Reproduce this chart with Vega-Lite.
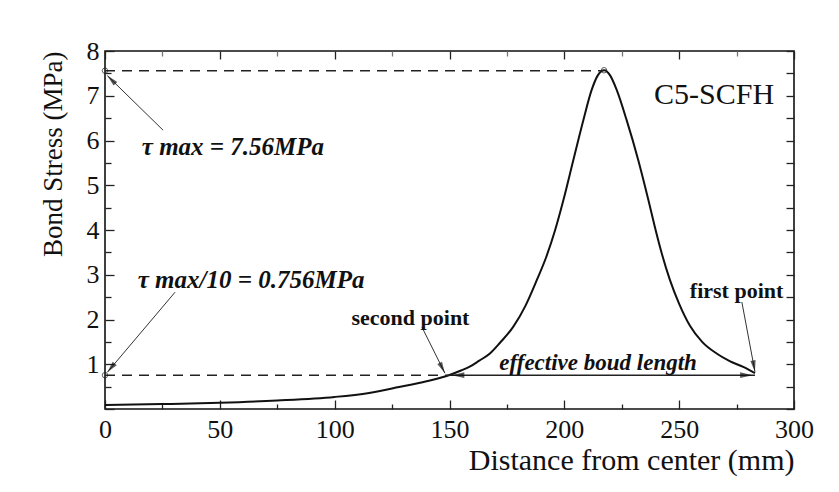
{
  "$schema": "https://vega.github.io/schema/vega-lite/v6.json",
  "width": 689,
  "height": 358,
  "autosize": {"type": "none"},
  "padding": {"left": 105, "top": 51, "right": 45, "bottom": 83},
  "config": {
    "view": {"stroke": "#111", "strokeWidth": 1.6},
    "font": "Liberation Serif",
    "axis": {
      "grid": false,
      "domain": false,
      "labelFont": "Liberation Serif",
      "titleFont": "Liberation Serif",
      "labelColor": "#111",
      "titleColor": "#111",
      "tickColor": "#222",
      "tickWidth": 1.3,
      "titleFontWeight": "normal",
      "labelFontSize": 26,
      "labelFlush": false,
      "labelOverlap": false
    }
  },
  "datasets": {
    "curve": [
      {"d": 0, "s": 0.09}, {"d": 25, "s": 0.11}, {"d": 50, "s": 0.14}, {"d": 75, "s": 0.19},
      {"d": 100, "s": 0.27}, {"d": 115, "s": 0.36}, {"d": 128, "s": 0.49}, {"d": 140, "s": 0.62},
      {"d": 150, "s": 0.76}, {"d": 155, "s": 0.86}, {"d": 159, "s": 0.95}, {"d": 163, "s": 1.08},
      {"d": 167.6, "s": 1.24}, {"d": 172, "s": 1.48}, {"d": 177.8, "s": 1.84}, {"d": 183, "s": 2.3},
      {"d": 188, "s": 2.88}, {"d": 192, "s": 3.38}, {"d": 196, "s": 4.0}, {"d": 199.6, "s": 4.67},
      {"d": 203.9, "s": 5.56}, {"d": 208.3, "s": 6.46}, {"d": 211.9, "s": 7.13}, {"d": 214.5, "s": 7.45},
      {"d": 217.3, "s": 7.57}, {"d": 220, "s": 7.45}, {"d": 222.8, "s": 7.13}, {"d": 227.1, "s": 6.46},
      {"d": 232.2, "s": 5.56}, {"d": 236.6, "s": 4.67}, {"d": 239.5, "s": 4.05}, {"d": 242.4, "s": 3.48},
      {"d": 246, "s": 2.88}, {"d": 250, "s": 2.35}, {"d": 254.7, "s": 1.86}, {"d": 260, "s": 1.5},
      {"d": 266.3, "s": 1.24}, {"d": 272, "s": 1.07}, {"d": 277.9, "s": 0.94}, {"d": 283, "s": 0.8}
    ],
    "refs": [
      {"x1": 0, "x2": 217, "y": 7.56},
      {"x1": 0, "x2": 150, "y": 0.756}
    ],
    "span": [
      {"x1": 150, "x2": 283, "y": 0.756}
    ],
    "leaders": [
      {"id": "a", "x1": 25.3, "y1": 6.23, "x2": 1, "y2": 7.45},
      {"id": "b", "x1": 30.5, "y1": 2.61, "x2": 1, "y2": 0.82},
      {"id": "c", "x1": 138.0, "y1": 1.83, "x2": 148, "y2": 0.8},
      {"id": "d", "x1": 277.3, "y1": 2.39, "x2": 283, "y2": 0.83}
    ],
    "heads": [
      {"id": "a", "x": 1, "y": 7.45},
      {"id": "b", "x": 1, "y": 0.82},
      {"id": "c", "x": 148, "y": 0.8},
      {"id": "d", "x": 283, "y": 0.83},
      {"id": "l", "x": 151, "y": 0.756},
      {"id": "r", "x": 282, "y": 0.756}
    ],
    "circles": [
      {"x": 0, "y": 7.56},
      {"x": 217.3, "y": 7.57},
      {"x": 0, "y": 0.756}
    ],
    "notes": [
      {"id": "t1", "label": "τ max = 7.56MPa", "x": 55.7, "y": 5.85},
      {"id": "t2", "label": "τ max/10 = 0.756MPa", "x": 63.6, "y": 2.88},
      {"id": "t3", "label": "second point", "x": 133.0, "y": 2.03},
      {"id": "t4", "label": "first point", "x": 275.0, "y": 2.64},
      {"id": "t5", "label": "effective boud length", "x": 214.7, "y": 1.03},
      {"id": "t6", "label": "C5-SCFH", "x": 265.2, "y": 7.02}
    ]
  },
  "resolve": {"axis": {"x": "independent", "y": "independent"}},
  "layer": [
    {
      "data": {"name": "curve"},
      "mark": {"type": "line", "color": "#111", "strokeWidth": 2, "interpolate": "monotone"},
      "encoding": {
        "x": {"field": "d", "type": "quantitative", "scale": {"domain": [0, 300], "nice": false},
          "axis": {"orient": "bottom", "values": [0, 50, 100, 150, 200, 250, 300], "ticks": false, "labelPadding": 7,
            "title": "Distance from center (mm)", "titleFontSize": 30, "titleAnchor": "end", "titlePadding": 3}},
        "y": {"field": "s", "type": "quantitative", "scale": {"domain": [0, 8], "nice": false},
          "axis": {"orient": "left", "values": [1, 2, 3, 4, 5, 6, 7, 8], "ticks": false, "labelPadding": 6,
            "title": "Bond Stress (MPa)", "titleFontSize": 27, "titleAnchor": "end", "titlePadding": 19}}
      }
    },
    {
      "data": {"name": "refs"},
      "mark": {"type": "rule", "strokeDash": [10, 7], "color": "#222", "strokeWidth": 1.5},
      "encoding": {
        "x": {"field": "x1", "type": "quantitative",
          "axis": {"orient": "bottom", "values": [0, 50, 100, 150, 200, 250, 300], "labels": false, "tickSize": -9, "title": null}},
        "x2": {"field": "x2"},
        "y": {"field": "y", "type": "quantitative",
          "axis": {"orient": "left", "values": [0, 1, 2, 3, 4, 5, 6, 7, 8], "labels": false, "tickSize": -9, "title": null}}
      }
    },
    {
      "data": {"name": "span"},
      "mark": {"type": "rule", "color": "#222", "strokeWidth": 1.5},
      "encoding": {
        "x": {"field": "x1", "type": "quantitative",
          "axis": {"orient": "bottom", "values": [25, 75, 125, 175, 225, 275], "labels": false, "tickSize": -5, "title": null}},
        "x2": {"field": "x2"},
        "y": {"field": "y", "type": "quantitative",
          "axis": {"orient": "left", "values": [0.5, 1.5, 2.5, 3.5, 4.5, 5.5, 6.5, 7.5], "labels": false, "tickSize": -6, "title": null}}
      }
    },
    {
      "data": {"name": "leaders"},
      "mark": {"type": "rule", "color": "#333", "strokeWidth": 1},
      "encoding": {
        "x": {"field": "x1", "type": "quantitative",
          "axis": {"orient": "top", "values": [0, 50, 100, 150, 200, 250, 300], "labels": false, "tickSize": -8, "title": null}},
        "x2": {"field": "x2"},
        "y": {"field": "y1", "type": "quantitative",
          "axis": {"orient": "right", "values": [0, 1, 2, 3, 4, 5, 6, 7, 8], "labels": false, "tickSize": -8, "title": null}},
        "y2": {"field": "y2"}
      }
    },
    {
      "data": {"name": "circles"},
      "mark": {"type": "point", "shape": "circle", "filled": false, "size": 30, "color": "#222", "strokeWidth": 1},
      "encoding": {
        "x": {"field": "x", "type": "quantitative",
          "axis": {"orient": "top", "values": [25, 75, 125, 175, 225, 275], "labels": false, "tickSize": -5, "tickColor": "#777", "title": null}},
        "y": {"field": "y", "type": "quantitative",
          "axis": {"orient": "right", "values": [0.5, 1.5, 2.5, 3.5, 4.5, 5.5, 6.5, 7.5], "labels": false, "tickSize": -8, "title": null}}
      }
    },
    {
      "data": {"name": "heads"},
      "transform": [{"filter": "datum.id == 'a'"}],
      "mark": {"type": "point", "shape": "M0,0L0.5,2.2L-0.5,2.2Z", "filled": true, "size": 110, "color": "#111", "angle": 315},
      "encoding": {
        "x": {"field": "x", "type": "quantitative", "axis": null},
        "y": {"field": "y", "type": "quantitative", "axis": null}
      }
    },
    {
      "data": {"name": "heads"},
      "transform": [{"filter": "datum.id == 'b'"}],
      "mark": {"type": "point", "shape": "M0,0L0.5,2.2L-0.5,2.2Z", "filled": true, "size": 110, "color": "#111", "angle": 220},
      "encoding": {
        "x": {"field": "x", "type": "quantitative", "axis": null},
        "y": {"field": "y", "type": "quantitative", "axis": null}
      }
    },
    {
      "data": {"name": "heads"},
      "transform": [{"filter": "datum.id == 'c'"}],
      "mark": {"type": "point", "shape": "M0,0L0.5,2.2L-0.5,2.2Z", "filled": true, "size": 110, "color": "#111", "angle": 153},
      "encoding": {
        "x": {"field": "x", "type": "quantitative", "axis": null},
        "y": {"field": "y", "type": "quantitative", "axis": null}
      }
    },
    {
      "data": {"name": "heads"},
      "transform": [{"filter": "datum.id == 'd'"}],
      "mark": {"type": "point", "shape": "M0,0L0.5,2.2L-0.5,2.2Z", "filled": true, "size": 110, "color": "#111", "angle": 170},
      "encoding": {
        "x": {"field": "x", "type": "quantitative", "axis": null},
        "y": {"field": "y", "type": "quantitative", "axis": null}
      }
    },
    {
      "data": {"name": "heads"},
      "transform": [{"filter": "datum.id == 'l'"}],
      "mark": {"type": "point", "shape": "M0,0L0.5,2.2L-0.5,2.2Z", "filled": true, "size": 130, "color": "#111", "angle": 270},
      "encoding": {
        "x": {"field": "x", "type": "quantitative", "axis": null},
        "y": {"field": "y", "type": "quantitative", "axis": null}
      }
    },
    {
      "data": {"name": "heads"},
      "transform": [{"filter": "datum.id == 'r'"}],
      "mark": {"type": "point", "shape": "M0,0L0.5,2.2L-0.5,2.2Z", "filled": true, "size": 130, "color": "#111", "angle": 90},
      "encoding": {
        "x": {"field": "x", "type": "quantitative", "axis": null},
        "y": {"field": "y", "type": "quantitative", "axis": null}
      }
    },
    {
      "data": {"name": "notes"},
      "transform": [{"filter": "datum.id == 't1' || datum.id == 't2'"}],
      "mark": {"type": "text", "font": "Liberation Serif", "fontStyle": "italic", "fontWeight": "bold", "fontSize": 25, "color": "#111", "align": "center", "baseline": "middle"},
      "encoding": {
        "x": {"field": "x", "type": "quantitative", "axis": null},
        "y": {"field": "y", "type": "quantitative", "axis": null},
        "text": {"field": "label"}
      }
    },
    {
      "data": {"name": "notes"},
      "transform": [{"filter": "datum.id == 't5'"}],
      "mark": {"type": "text", "font": "Liberation Serif", "fontStyle": "italic", "fontWeight": "bold", "fontSize": 23, "color": "#111", "align": "center", "baseline": "middle"},
      "encoding": {
        "x": {"field": "x", "type": "quantitative", "axis": null},
        "y": {"field": "y", "type": "quantitative", "axis": null},
        "text": {"field": "label"}
      }
    },
    {
      "data": {"name": "notes"},
      "transform": [{"filter": "datum.id == 't3' || datum.id == 't4'"}],
      "mark": {"type": "text", "font": "Liberation Serif", "fontWeight": "bold", "fontSize": 22, "color": "#111", "align": "center", "baseline": "middle"},
      "encoding": {
        "x": {"field": "x", "type": "quantitative", "axis": null},
        "y": {"field": "y", "type": "quantitative", "axis": null},
        "text": {"field": "label"}
      }
    },
    {
      "data": {"name": "notes"},
      "transform": [{"filter": "datum.id == 't6'"}],
      "mark": {"type": "text", "font": "Liberation Serif", "fontSize": 30, "color": "#111", "align": "center", "baseline": "middle"},
      "encoding": {
        "x": {"field": "x", "type": "quantitative", "axis": null},
        "y": {"field": "y", "type": "quantitative", "axis": null},
        "text": {"field": "label"}
      }
    }
  ]
}
